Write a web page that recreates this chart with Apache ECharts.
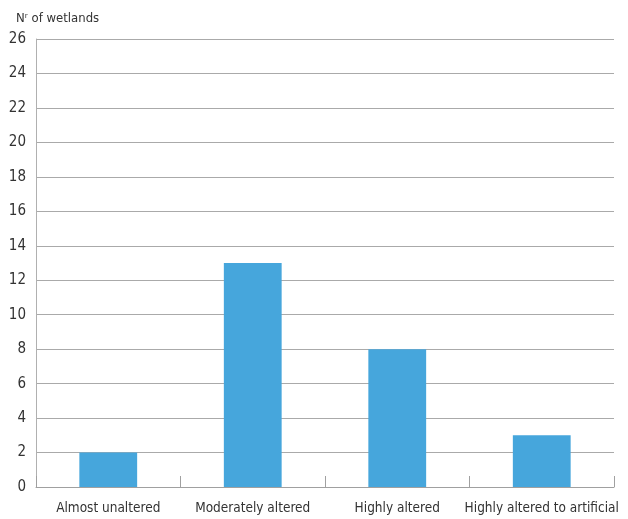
<!DOCTYPE html>
<html><head><meta charset="utf-8">
<script src="https://cdn.jsdelivr.net/npm/echarts@6/dist/echarts.min.js"></script>
<style>html,body{margin:0;padding:0;background:#fff}#c{width:628px;height:519px}</style>
</head><body><div id="c"></div>
<script>
const categories = ["Almost unaltered", "Moderately altered", "Highly altered", "Highly altered to artificial"];
const values = [2, 13, 8, 3];
const yTitle = "N\u02b3 of wetlands";
const FONT = "'Liberation Sans Narrow', 'DejaVu Sans Condensed', sans-serif";
const chart = echarts.init(document.getElementById('c'));
chart.setOption({
  animation: false,
  grid: {left: 36, right: 14, top: 39, bottom: 32, containLabel: false},
  title: {text: yTitle, left: 11, top: 7, textStyle: {fontFamily: FONT, fontSize: 13, fontWeight: 'normal', color: '#333'}},
  xAxis: {
    type: 'category', data: categories,
    axisLine: {lineStyle: {color: '#a0a0a0', width: 1}},
    axisTick: {show: true, inside: true, length: 11, interval: 0, lineStyle: {color: '#a0a0a0'}},
    axisLabel: {fontFamily: FONT, fontSize: 13.5, color: '#333', margin: 14, interval: 0}
  },
  yAxis: {
    type: 'value', min: 0, max: 26, interval: 2,
    axisLine: {show: true, lineStyle: {color: '#b0b0b0'}},
    axisTick: {show: false},
    axisLabel: {fontFamily: FONT, fontSize: 15, color: '#333', margin: 10},
    splitLine: {lineStyle: {color: '#aaaaaa', width: 1}}
  },
  series: [{type: 'bar', data: values, barWidth: '40%', itemStyle: {color: '#46a6dc'}}]
});
</script></body></html>
